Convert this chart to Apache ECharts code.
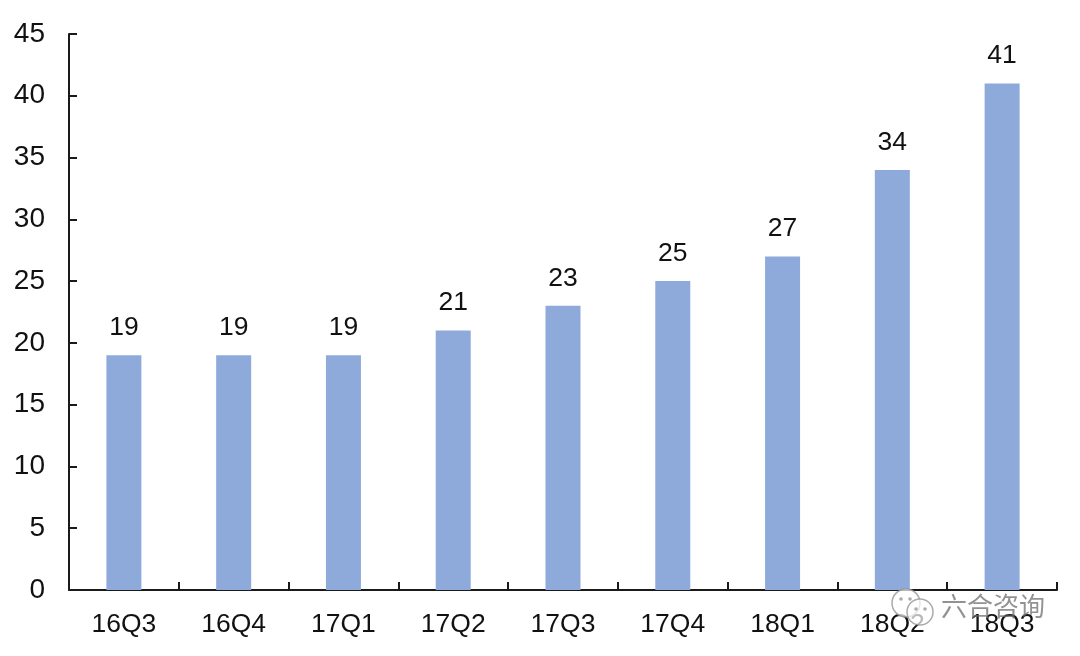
<!DOCTYPE html>
<html><head><meta charset="utf-8">
<style>html,body{margin:0;padding:0;background:#fff}#c{width:1080px;height:656px}</style>
<script src="https://cdn.jsdelivr.net/npm/echarts@6/dist/echarts.min.js"></script>
</head><body><div id="c"></div>
<script>
const categories = ['16Q3','16Q4','17Q1','17Q2','17Q3','17Q4','18Q1','18Q2','18Q3'];
const values = [19,19,19,21,23,25,27,34,41];
const font = '"Liberation Sans", Arial, sans-serif';
const ink = '#111';
const mark = 'rgba(150,150,150,0.8)';
const dot = (cx, cy) => ({type:'circle',shape:{cx,cy,r:1.8},z:101,silent:true,style:{fill:mark}});
const chart = echarts.init(document.getElementById('c'), null, {renderer:'canvas'});
chart.setOption({
  animation:false,
  backgroundColor:'#fff',
  grid:{left:69,right:23,top:34,bottom:66},
  xAxis:{type:'category',data:categories,
    axisLine:{lineStyle:{color:'#1a1a1a',width:2}},
    axisTick:{show:true,inside:true,length:8,lineStyle:{color:'#1a1a1a',width:2}},
    axisLabel:{color:ink,fontFamily:font,fontSize:26.5,margin:21,interval:0}},
  yAxis:{type:'value',min:0,max:45,interval:5,
    axisLine:{show:true,lineStyle:{color:'#1a1a1a',width:2}},
    axisTick:{show:true,inside:true,length:8,lineStyle:{color:'#1a1a1a',width:2}},
    axisLabel:{color:ink,fontFamily:font,fontSize:28,margin:24,padding:[2,0,0,0]},
    splitLine:{show:false}},
  series:[{type:'bar',data:values,barWidth:35,
    itemStyle:{color:'#8EAADB'},
    label:{show:true,position:'top',distance:14,color:ink,fontFamily:font,fontSize:26.5}}],
  graphic:[
    {type:'circle',shape:{cx:906,cy:603,r:14},z:100,silent:true,style:{fill:'rgba(255,255,255,0.7)',stroke:mark,lineWidth:1.5}},
    {type:'circle',shape:{cx:920,cy:612,r:13},z:100,silent:true,style:{fill:'rgba(255,255,255,0.7)',stroke:mark,lineWidth:1.5}},
    dot(901,599),dot(910,599),dot(916,609),dot(925,609),
    {type:'text',left:941,top:593,silent:true,z:100,
     style:{text:'六合咨询',fill:'rgba(110,110,110,0.75)',font:'26px "Noto Sans CJK SC"'}}]
});
</script></body></html>
